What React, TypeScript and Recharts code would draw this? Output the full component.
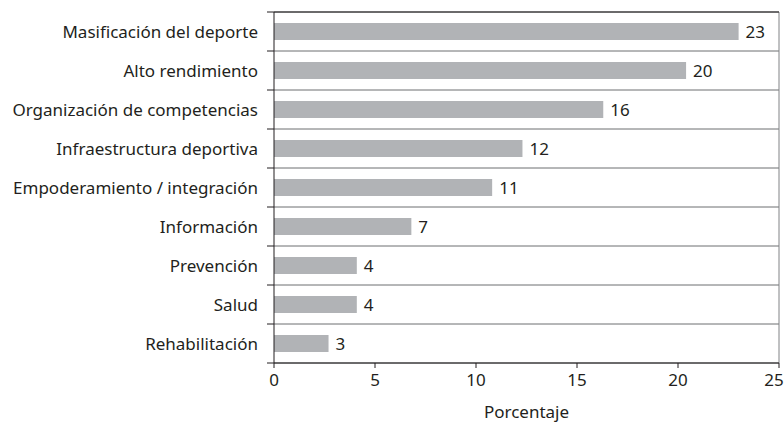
import {
  BarChart,
  Bar,
  XAxis,
  YAxis,
  CartesianGrid,
  ReferenceLine,
  LabelList,
} from "recharts"

const categories = [
  "Masificación del deporte",
  "Alto rendimiento",
  "Organización de competencias",
  "Infraestructura deportiva",
  "Empoderamiento / integración",
  "Información",
  "Prevención",
  "Salud",
  "Rehabilitación",
]

// bar lengths as drawn; labels show the rounded figures
const values = [23.0, 20.4, 16.3, 12.3, 10.8, 6.8, 4.1, 4.1, 2.7]
const xTicks = [0, 5, 10, 15, 20, 25]
const bandTicks = [0, 1, 2, 3, 4, 5, 6, 7, 8, 9]

const FONT = "'Noto Sans', 'Open Sans', sans-serif"
const INK = "#231f20"
const FS = 17

// each category sits in the middle of its band
const data = categories.map((name, i) => ({ name, value: values[i], pos: i + 0.5 }))

// eslint-disable-next-line @typescript-eslint/no-explicit-any
function XTick({ x, y, payload }: any) {
  const last = payload.value === xTicks[xTicks.length - 1]
  return (
    <text
      x={x}
      y={y}
      dy="0.71em"
      dx={last ? -5 : 0}
      textAnchor="middle"
      fontSize={FS}
      fill={INK}
      fontFamily={FONT}
    >
      {payload.value}
    </text>
  )
}

// band boundaries get a tick mark but no text (tick={false} drops the ticks entirely)
function NoText() {
  return <g />
}

export default function App() {
  return (
    <div style={{ position: "absolute", left: 0, top: 0, fontFamily: FONT }}>
      <BarChart
        width={784}
        height={428}
        data={data}
        layout="vertical"
        margin={{ top: 12, right: 5, bottom: 0, left: 264 }}
        barSize={17}
      >
        <CartesianGrid vertical={false} stroke="#6d6e71" />
        <XAxis
          type="number"
          domain={[0, 25]}
          ticks={xTicks}
          interval={0}
          height={65}
          tickSize={5}
          tickMargin={6}
          axisLine={{ stroke: INK }}
          tickLine={{ stroke: INK }}
          tick={<XTick />}
          label={{
            value: "Porcentaje",
            position: "insideBottom",
            offset: 10,
            fontSize: FS,
            fill: INK,
            fontFamily: FONT,
          }}
        />
        <YAxis
          type="number"
          dataKey="pos"
          domain={[0, 9]}
          ticks={bandTicks}
          interval={0}
          width={10}
          tick={<NoText />}
          tickSize={7}
          axisLine={{ stroke: INK }}
          tickLine={{ stroke: INK }}
        />
        <ReferenceLine x={25} stroke="#808285" ifOverflow="visible" />
        <ReferenceLine y={0} stroke={INK} ifOverflow="visible" />
        <Bar dataKey="value" fill="#b1b3b6" isAnimationActive={false}>
          <LabelList
            dataKey="value"
            position="right"
            offset={7}
            formatter={(v: number) => Math.round(v)}
            style={{ fontSize: FS, fill: INK, fontFamily: FONT }}
          />
          <LabelList
            dataKey="name"
            position="left"
            offset={16}
            style={{ fontSize: FS, fill: INK, fontFamily: FONT }}
          />
        </Bar>
      </BarChart>
    </div>
  )
}
